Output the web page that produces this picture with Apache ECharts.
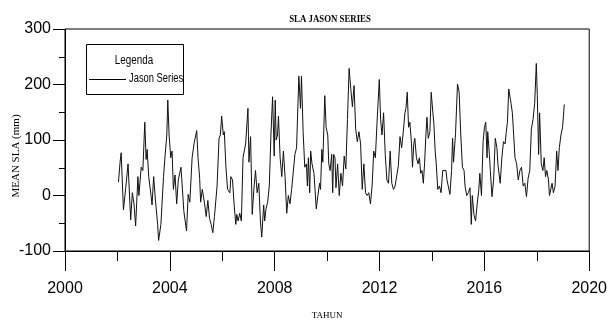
<!DOCTYPE html>
<html>
<head>
<meta charset="utf-8">
<script src="https://cdn.jsdelivr.net/npm/echarts@6/dist/echarts.min.js"></script>
<style>html,body{margin:0;padding:0;background:#fff;}#c{width:610px;height:325px;}</style>
</head>
<body>
<div id="c"></div>
<script>
const chartTitle = 'SLA JASON SERIES';
const xName = 'TAHUN';
const yName = 'MEAN SLA (mm)';
const seriesName = 'Jason Series';
const legendTitle = 'Legenda';

const years = [
2002.04,2002.105,2002.143,2002.23,2002.318,2002.406,2002.506,2002.569,2002.632,2002.694,2002.782,2002.82,2002.907,2002.97,
2003.045,2003.095,2003.133,2003.195,2003.283,2003.321,2003.383,2003.446,2003.534,2003.571,2003.659,2003.759,2003.822,2003.885,2003.922,2003.972,
2004.035,2004.085,2004.135,2004.198,2004.261,2004.323,2004.424,2004.536,2004.637,2004.699,2004.762,2004.85,2004.925,2004.975,
2005.025,2005.075,2005.138,2005.175,2005.238,2005.326,2005.388,2005.451,2005.514,2005.576,2005.639,2005.702,2005.802,2005.877,2005.927,2005.977,
2006.04,2006.078,2006.14,2006.203,2006.291,2006.328,2006.391,2006.454,2006.516,2006.554,2006.604,2006.667,2006.729,2006.792,2006.892,2006.98,
2007.018,2007.08,2007.143,2007.206,2007.268,2007.331,2007.394,2007.456,2007.506,2007.581,2007.619,2007.669,2007.732,2007.794,2007.857,2007.92,2007.982,
2008.02,2008.058,2008.108,2008.145,2008.208,2008.271,2008.333,2008.396,2008.459,2008.521,2008.584,2008.647,2008.709,2008.772,2008.835,2008.922,2008.985,
2009.023,2009.085,2009.148,2009.211,2009.248,2009.286,2009.336,2009.373,2009.424,2009.499,2009.586,2009.649,2009.712,2009.749,2009.799,2009.837,2009.912,2009.962,
2010.025,2010.063,2010.113,2010.175,2010.213,2010.251,2010.301,2010.338,2010.401,2010.464,2010.526,2010.589,2010.652,2010.714,2010.777,2010.84,2010.902,2010.94,2010.965,
2011.028,2011.09,2011.153,2011.215,2011.278,2011.341,2011.403,2011.466,2011.529,2011.591,2011.654,2011.717,2011.779,2011.842,2011.905,2011.992,
2012.042,2012.093,2012.155,2012.218,2012.281,2012.343,2012.406,2012.469,2012.531,2012.594,2012.657,2012.719,2012.782,2012.845,2012.907,2012.97,
2013.008,2013.058,2013.108,2013.158,2013.221,2013.258,2013.308,2013.346,2013.409,2013.471,2013.521,2013.571,2013.621,2013.672,2013.722,2013.759,2013.809,2013.86,2013.922,2013.972,
2014.035,2014.073,2014.123,2014.16,2014.223,2014.286,2014.348,2014.411,2014.474,2014.536,2014.574,2014.636,2014.687,2014.749,2014.787,2014.824,2014.9,2014.975,
2015.038,2015.1,2015.163,2015.226,2015.263,2015.326,2015.388,2015.451,2015.501,2015.539,2015.602,2015.664,2015.727,2015.789,2015.827,2015.89,2015.952,
2016.003,2016.053,2016.103,2016.128,2016.191,2016.228,2016.291,2016.353,2016.416,2016.479,2016.516,2016.554,2016.604,2016.667,2016.729,2016.792,2016.83,2016.88,2016.93,2016.98,
2017.018,2017.068,2017.105,2017.168,2017.231,2017.293,2017.356,2017.418,2017.481,2017.544,2017.606,2017.669,2017.732,2017.794,2017.857,2017.92,2017.982,
2018.02,2018.07,2018.108,2018.171,2018.233,2018.283,2018.333,2018.383,2018.446,2018.484,2018.534,2018.584,2018.634,2018.697,2018.759,2018.809,2018.86,2018.922,2018.985,
2019.023,2019.048
];
const slaValues = [
24,62,77,-26,14,57,-44,5,-15,-55,34,0,51,45,
132,65,83,34,0,-17,34,-6,-52,-81,-52,34,74,109,172,109,
68,80,11,37,-15,28,51,-29,-64,2,-12,68,94,93,
117,68,31,-12,11,-15,-38,-9,-41,-52,-67,-38,17,103,109,143,
109,115,51,11,5,34,28,-17,-52,-34,-46,-32,-46,68,93,157,
60,106,-34,11,45,5,22,-46,-75,-17,-46,-24,-12,17,109,178,71,
172,100,109,143,68,34,80,34,-32,0,-15,11,9,74,86,215,157,
215,115,51,57,17,68,5,80,57,40,-24,0,22,11,83,60,180,123,
109,57,45,74,5,74,68,14,57,0,40,17,71,48,137,229,193,196,160,
198,120,97,115,93,11,57,5,0,5,-15,17,80,68,132,209,
137,109,149,74,28,22,80,22,11,17,14,54,106,86,115,149,
157,186,123,132,93,51,93,103,68,57,68,40,45,22,60,100,141,103,115,186,
149,130,80,60,11,17,5,45,48,45,28,28,2,45,103,60,112,201,
186,109,51,45,17,0,5,14,-52,0,-34,-46,-15,11,40,0,97,
123,132,68,115,74,45,-2,28,103,86,57,60,22,68,97,93,112,132,192,190,
166,149,120,68,57,28,45,51,17,22,-2,31,45,120,137,166,238,
180,74,149,57,45,68,34,45,28,0,-2,22,5,17,80,45,86,109,123,
120,164
];

const xTickLabels = ['2000','2004','2008','2012','2016','2020'];
const yTickLabels = ['-100','0','100','200','300'];

const data = years.map((y, i) => [y, slaValues[i]]);

const chart = echarts.init(document.getElementById('c'), null, {renderer: 'canvas'});
const tickFont = 'Liberation Sans, Arial, sans-serif';
const serifFont = 'Liberation Serif, Times New Roman, serif';

chart.setOption({
  animation: false,
  backgroundColor: '#fff',
  graphic: [
    {type: 'text', x: 330, y: 19, scaleX: 0.88,
      style: {text: chartTitle, textAlign: 'center', textVerticalAlign: 'middle',
        font: 'bold 10px ' + serifFont, fill: '#000'}},
    {type: 'text', x: 16, y: 156, rotation: Math.PI / 2,
      style: {text: yName, textAlign: 'center', textVerticalAlign: 'middle',
        font: '11px ' + serifFont, fill: '#000'}},
    {type: 'rect', shape: {x: 86.5, y: 44.5, width: 97, height: 50},
      style: {fill: '#fff', stroke: '#000', lineWidth: 1}, z: 10},
    {type: 'text', x: 134, y: 61, scaleX: 0.82, z: 11,
      style: {text: legendTitle, textAlign: 'center', textVerticalAlign: 'middle',
        font: '12px ' + tickFont, fill: '#000'}},
    {type: 'line', shape: {x1: 89, y1: 79.5, x2: 126, y2: 79.5}, z: 11,
      style: {stroke: '#000', lineWidth: 1}},
    {type: 'text', x: 129, y: 79, scaleX: 0.78, z: 11,
      style: {text: seriesName, textAlign: 'left', textVerticalAlign: 'middle',
        font: '12px ' + tickFont, fill: '#000'}}
  ],
  grid: {
    left: 65, right: 13, top: 29, bottom: 64,
    show: true, borderColor: '#000', borderWidth: 1, backgroundColor: 'transparent'
  },
  xAxis: {
    type: 'value', min: 2000, max: 2020, interval: 4,
    name: xName, nameLocation: 'middle', nameGap: 60,
    nameTextStyle: {fontFamily: serifFont, fontSize: 9, color: '#000'},
    axisLine: {show: true, onZero: false, lineStyle: {color: '#000', width: 1}},
    axisTick: {show: true, inside: false, length: 20, lineStyle: {color: '#000'}},
    minorTick: {show: true, splitNumber: 2, length: 10, lineStyle: {color: '#000'}},
    splitLine: {show: false},
    axisLabel: {
      margin: 30, fontFamily: tickFont, fontSize: 16, color: '#000',
      formatter: v => xTickLabels[xTickLabels.indexOf(String(v))] || ''
    }
  },
  yAxis: {
    type: 'value', min: -100, max: 300, interval: 100,
    axisLine: {show: true, onZero: false, lineStyle: {color: '#000', width: 1}},
    axisTick: {show: true, inside: false, length: 12, lineStyle: {color: '#000'}},
    minorTick: {show: true, splitNumber: 2, length: 6, lineStyle: {color: '#000'}},
    splitLine: {show: false},
    axisLabel: {
      margin: 14, fontFamily: tickFont, fontSize: 16, color: '#000',
      formatter: v => yTickLabels[yTickLabels.indexOf(String(v))] || ''
    }
  },
  series: [{
    name: seriesName,
    type: 'line',
    data: data,
    symbol: 'none',
    lineStyle: {color: '#111', width: 1},
    itemStyle: {color: '#000'}
  }]
});
</script>
</body>
</html>
